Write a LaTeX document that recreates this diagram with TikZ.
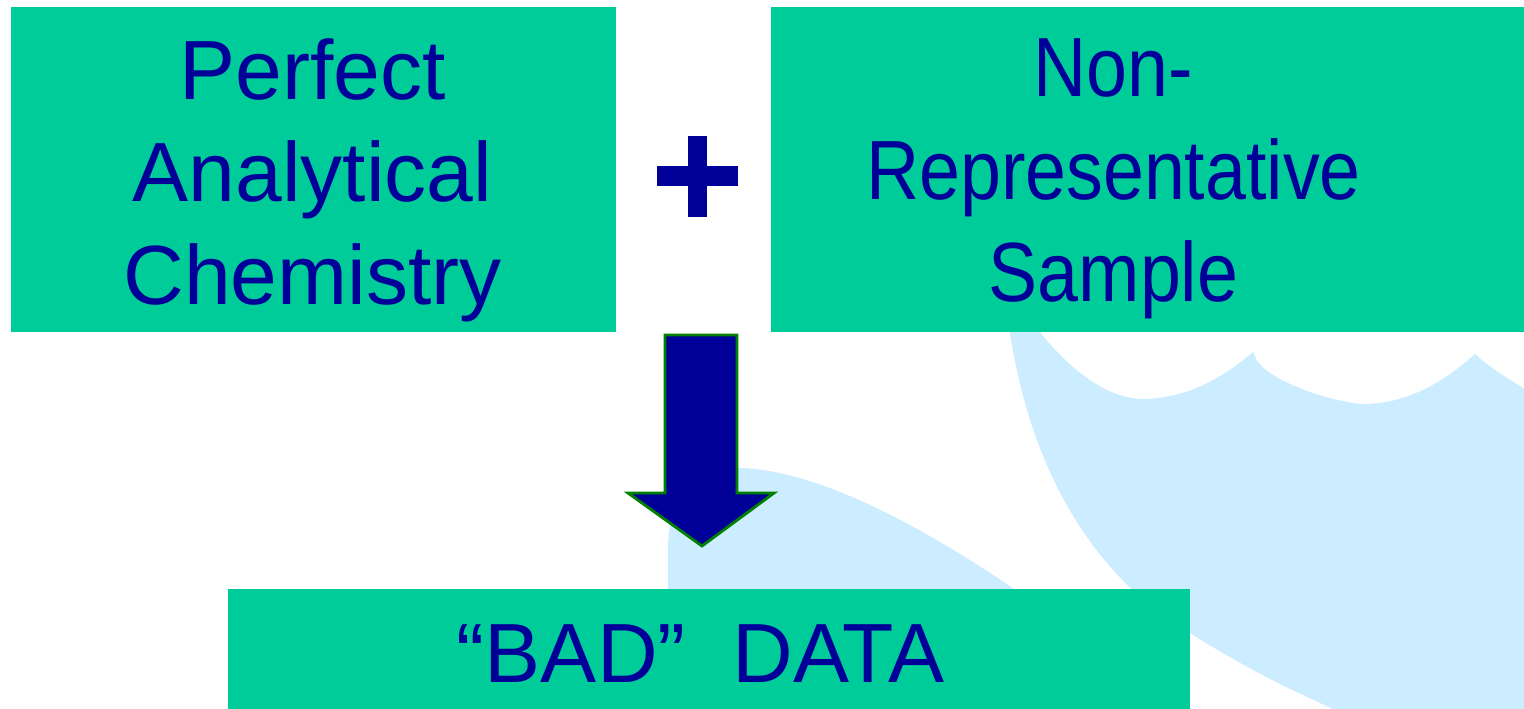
\documentclass[tikz,border=0pt]{standalone}
\usepackage{fontspec}
\setmainfont{Liberation Sans}
\newfontfamily\narrowface[FakeStretch=0.875]{Liberation Sans}
\definecolor{panelgreen}{HTML}{00CC99}
\definecolor{inkblue}{HTML}{000099}
\definecolor{cloudblue}{HTML}{CCECFF}
\definecolor{rimgreen}{HTML}{008000}

\begin{document}
\begin{tikzpicture}[x=0.01cm, y=-0.01cm,
    panel/.style={fill=panelgreen, draw=none, inner sep=0pt},
    caption/.style={text=inkblue, align=center, inner sep=0pt,
        font=\fontsize{23.9pt}{29.2pt}\selectfont}]
    \useasboundingbox (0,0) rectangle (1524,709);
    % light blue background shapes
    \fill[cloudblue] (1008,320) .. controls (1030,480) and (1100,580) .. (1190,633)
        .. controls (1240,665) and (1290,690) .. (1340,712) -- (1530,712) -- (1530,392)
        .. controls (1510,380) and (1490,368) .. (1475,354)
        .. controls (1440,385) and (1405,404) .. (1362,404)
        .. controls (1320,400) and (1260,376) .. (1255,356) -- (1253,352)
        .. controls (1220,380) and (1185,399) .. (1140,399)
        .. controls (1100,396) and (1065,365) .. (1030,320) -- cycle;
    \fill[cloudblue] (668,600) -- (668,550) .. controls (668,500) and (690,468) .. (740,468)
        .. controls (820,470) and (930,530) .. (1030,600) -- cycle;
    % boxes
    \node[panel, minimum width=6.05cm, minimum height=3.25cm] (chem) at (313.5,169.5) {};
    \node[panel, minimum width=7.53cm, minimum height=3.25cm] (sample) at (1147.5,169.5) {};
    \node[panel, minimum width=9.62cm, minimum height=1.20cm] (result) at (709,649) {};
    \node[caption] (chemtxt) at (312.5,180) {Perfect\\Analytical\\Chemistry};
    \node[caption, font=\fontsize{23.9pt}{29.2pt}\narrowface] (sampletxt) at (1113.5,179)
        {Non-\\Representative\\Sample};
    \node[caption, anchor=base] (resulttxt) at (700.5,682) {“BAD”\ \ DATA};
    % plus sign
    \fill[inkblue] (688,136) rectangle (707,217);
    \fill[inkblue] (657,166) rectangle (738,186);
    % block arrow
    \filldraw[fill=inkblue, draw=rimgreen, line width=0.8pt] (665,335) -- (737,335) -- (737,493)
        -- (774,493) -- (702,546) -- (628,493) -- (665,493) -- cycle;
\end{tikzpicture}
\end{document}
